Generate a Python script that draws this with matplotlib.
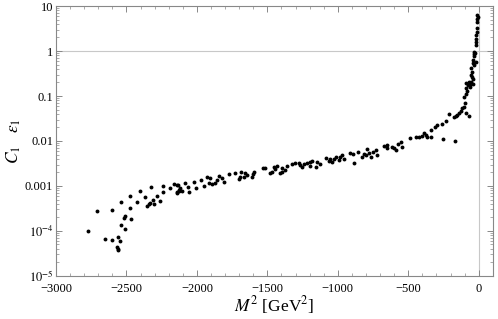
import matplotlib
matplotlib.use("Agg")
import matplotlib.pyplot as plt
import numpy as np
from matplotlib.ticker import FixedLocator, FuncFormatter, MultipleLocator, LogLocator, NullFormatter

# scan points (M^2 in GeV^2, C1*eps1)
m2 = [-2775, -2711, -2654, -2602, -2602, -2557, -2545, -2564, -2559, -2561,
      -2540, -2538, -2512, -2521, -2507, -2467, -2474, -2474, -2424, -2403,
      -2369, -2325, -2351, -2341, -2332, -2315, -2308, -2282, -2265, -2241,
      -2241, -2194, -2166, -2138, -2138, -2128,
      -2142, -2130, -2118, -2106, -2135, -2083, -2064, -2054, -2024, -2007,
      -1969, -1953, -1929, -1917, -1905, -1893, -1874, -1857, -1841, -1822,
      -1810, -1775, -1732, -1704, -1692, -1685, -1668, -1661, -1644, -1609,
      -1597, -1604, -1533, -1514, -1478, -1467, -1455, -1443, -1431, -1407,
      -1395,
      -1395, -1372, -1360, -1324, -1301, -1277, -1265, -1253, -1242, -1218,
      -1199, -1182, -1194, -1158, -1146, -1128, -1087, -1064, -1052, -1040,
      -1028, -1016, -993, -981, -969, -957, -910, -891, -887, -858,
      -827, -815, -803, -796, -779, -767, -748, -732, -720, -673, -649,
      -649, -618, -602, -590, -570, -554, -547, -490, -447, -424,
      -400, -388, -376, -364, -340, -340, -310, -293, -263, -253,
      -229, -210, -168, -175, -163, -151, -140, -128, -116, -104,
      -92, -69, -97, -104, -92, -80, -87, -73, -87, -57, -40,
      -9, -7, -9, -14, -16, -19, -21, -19, -33, -30, -33, -38, -42, -21,
      -52, -45, -57, -38, -69, -62, -62, -45, -35, -26, -14, -11]
c1eps1 = [9.8e-5, 2.74e-4, 6.5e-5, 6.3e-5, 2.9e-4, 7.5e-5, 6.0e-5, 4.3e-5, 3.8e-5, 4.0e-5,
          4.4e-4, 1.34e-4, 1.09e-4, 1.98e-4, 2.19e-4, 1.85e-4, 3.3e-4, 6.0e-4, 4.5e-4, 7.9e-4,
          5.8e-4, 9.4e-4, 3.6e-4, 4.0e-4, 4.25e-4, 4.9e-4, 4.0e-4, 6.0e-4, 4.6e-4, 1.0e-3,
          7.4e-4, 8.9e-4, 1.1e-3, 1.04e-3, 6.9e-4, 7.6e-4,
          7.5e-4, 8.1e-4, 8.9e-4, 7.9e-4, 1.05e-3, 1.15e-3, 9.7e-4, 7.5e-4, 1.25e-3, 8.9e-4,
          1.36e-3, 1.0e-3, 1.56e-3, 1.19e-3, 1.49e-3, 1.09e-3, 1.19e-3, 1.36e-3, 1.67e-3, 1.49e-3,
          1.25e-3, 1.85e-3, 1.9e-3, 1.41e-3, 1.56e-3, 2.08e-3, 1.6e-3, 1.99e-3, 1.77e-3, 1.56e-3,
          2.08e-3, 1.85e-3, 2.47e-3, 2.47e-3, 1.99e-3, 2.08e-3, 2.68e-3, 2.33e-3, 2.76e-3, 1.99e-3,
          2.47e-3,
          2.08e-3, 2.27e-3, 2.76e-3, 3.08e-3, 3.17e-3, 3.3e-3, 2.9e-3, 2.68e-3, 3.08e-3, 3.3e-3,
          3.47e-3, 3.6e-3, 2.76e-3, 2.68e-3, 3.47e-3, 3.08e-3, 4.1e-3, 3.6e-3, 3.9e-3, 3.47e-3,
          3.9e-3, 4.5e-3, 3.7e-3, 4.5e-3, 4.9e-3, 3.9e-3, 5.3e-3, 5.2e-3, 3.3e-3, 5.8e-3,
          4.5e-3, 5.2e-3, 4.9e-3, 6.5e-3, 5.3e-3, 4.5e-3, 5.8e-3, 6.3e-3, 4.9e-3, 7.7e-3, 8.1e-3,
          6.9e-3, 7.5e-3, 6.9e-3, 6.3e-3, 8.6e-3, 9.7e-3, 7.5e-3, 0.0115, 0.0125, 0.012,
          0.013, 0.0153, 0.0137, 0.012, 0.0125, 0.0176, 0.0208, 0.0227, 0.0239, 0.0109,
          0.028, 0.04, 0.0102, 0.034, 0.0355, 0.0376, 0.041, 0.047, 0.053, 0.058,
          0.041, 0.0355, 0.069, 0.097, 0.111, 0.131, 0.148, 0.175, 0.198, 0.21, 0.186,
          6.3, 5.6, 5.1, 2.7, 2.27, 1.9, 1.6, 1.39, 0.96, 0.85, 0.77, 0.63, 0.55, 0.58,
          0.41, 0.35, 0.29, 0.24, 0.21, 0.175, 0.16, 0.26, 0.5, 0.9, 3.2, 4.4]

x_major = [-3000, -2500, -2000, -1500, -1000, -500, 0]
y_major = [1e-5, 1e-4, 1e-3, 1e-2, 1e-1, 1, 10]
y_labels = [r"$10^{-5}$", r"$10^{-4}$", "0.001", "0.01", "0.1", "1", "10"]

plt.rcParams['font.family'] = ['Liberation Serif', 'DejaVu Serif']
plt.rcParams['mathtext.fontset'] = 'stix'

fig = plt.figure(figsize=(4.98, 3.19), dpi=100)
ax = fig.add_axes([0.1125, 0.135, 0.877, 0.846])

frame = '#888888'
ax.axhline(1, color='#c8c8c8', lw=0.8, zorder=1)
ax.axvline(0, color='#c8c8c8', lw=0.8, zorder=1)
ax.plot(m2, c1eps1, 'o', color='black', ms=2.8, mec='none', zorder=3)

ax.set_yscale('log')
ax.set_xlim(-3000, 100)
ax.set_ylim(1e-5, 10)

ax.xaxis.set_major_locator(FixedLocator(x_major))
ax.xaxis.set_minor_locator(MultipleLocator(100))
ax.xaxis.set_major_formatter(FuncFormatter(lambda v, p: ('\u2212%d' % -v) if v < 0 else '%d' % v))
ax.yaxis.set_major_locator(FixedLocator(y_major))
ax.yaxis.set_major_formatter(FuncFormatter(lambda v, p: y_labels[p] if p < len(y_labels) else ''))
ax.yaxis.set_minor_locator(LogLocator(base=10, subs=np.arange(2, 10), numticks=20))
ax.yaxis.set_minor_formatter(NullFormatter())

for s in ax.spines.values():
    s.set_color(frame)
    s.set_linewidth(0.8)
ax.tick_params(which='both', direction='in', top=True, right=True, color=frame, labelsize=9)
ax.tick_params(axis='x', pad=5)
ax.tick_params(axis='y', pad=2)
ax.tick_params(which='major', length=4, width=0.7)
ax.tick_params(which='minor', length=2, width=0.5)

ax.set_xlabel(r"$M^2$ [GeV$^2$]", fontsize=12.5)
ax.xaxis.set_label_coords(0.5, -0.066)
ax.set_ylabel(r"$C_1\quad\epsilon_1$", fontsize=12.5)
ax.yaxis.set_label_coords(-0.076, 0.5)

fig.savefig('out.png', dpi=100)
